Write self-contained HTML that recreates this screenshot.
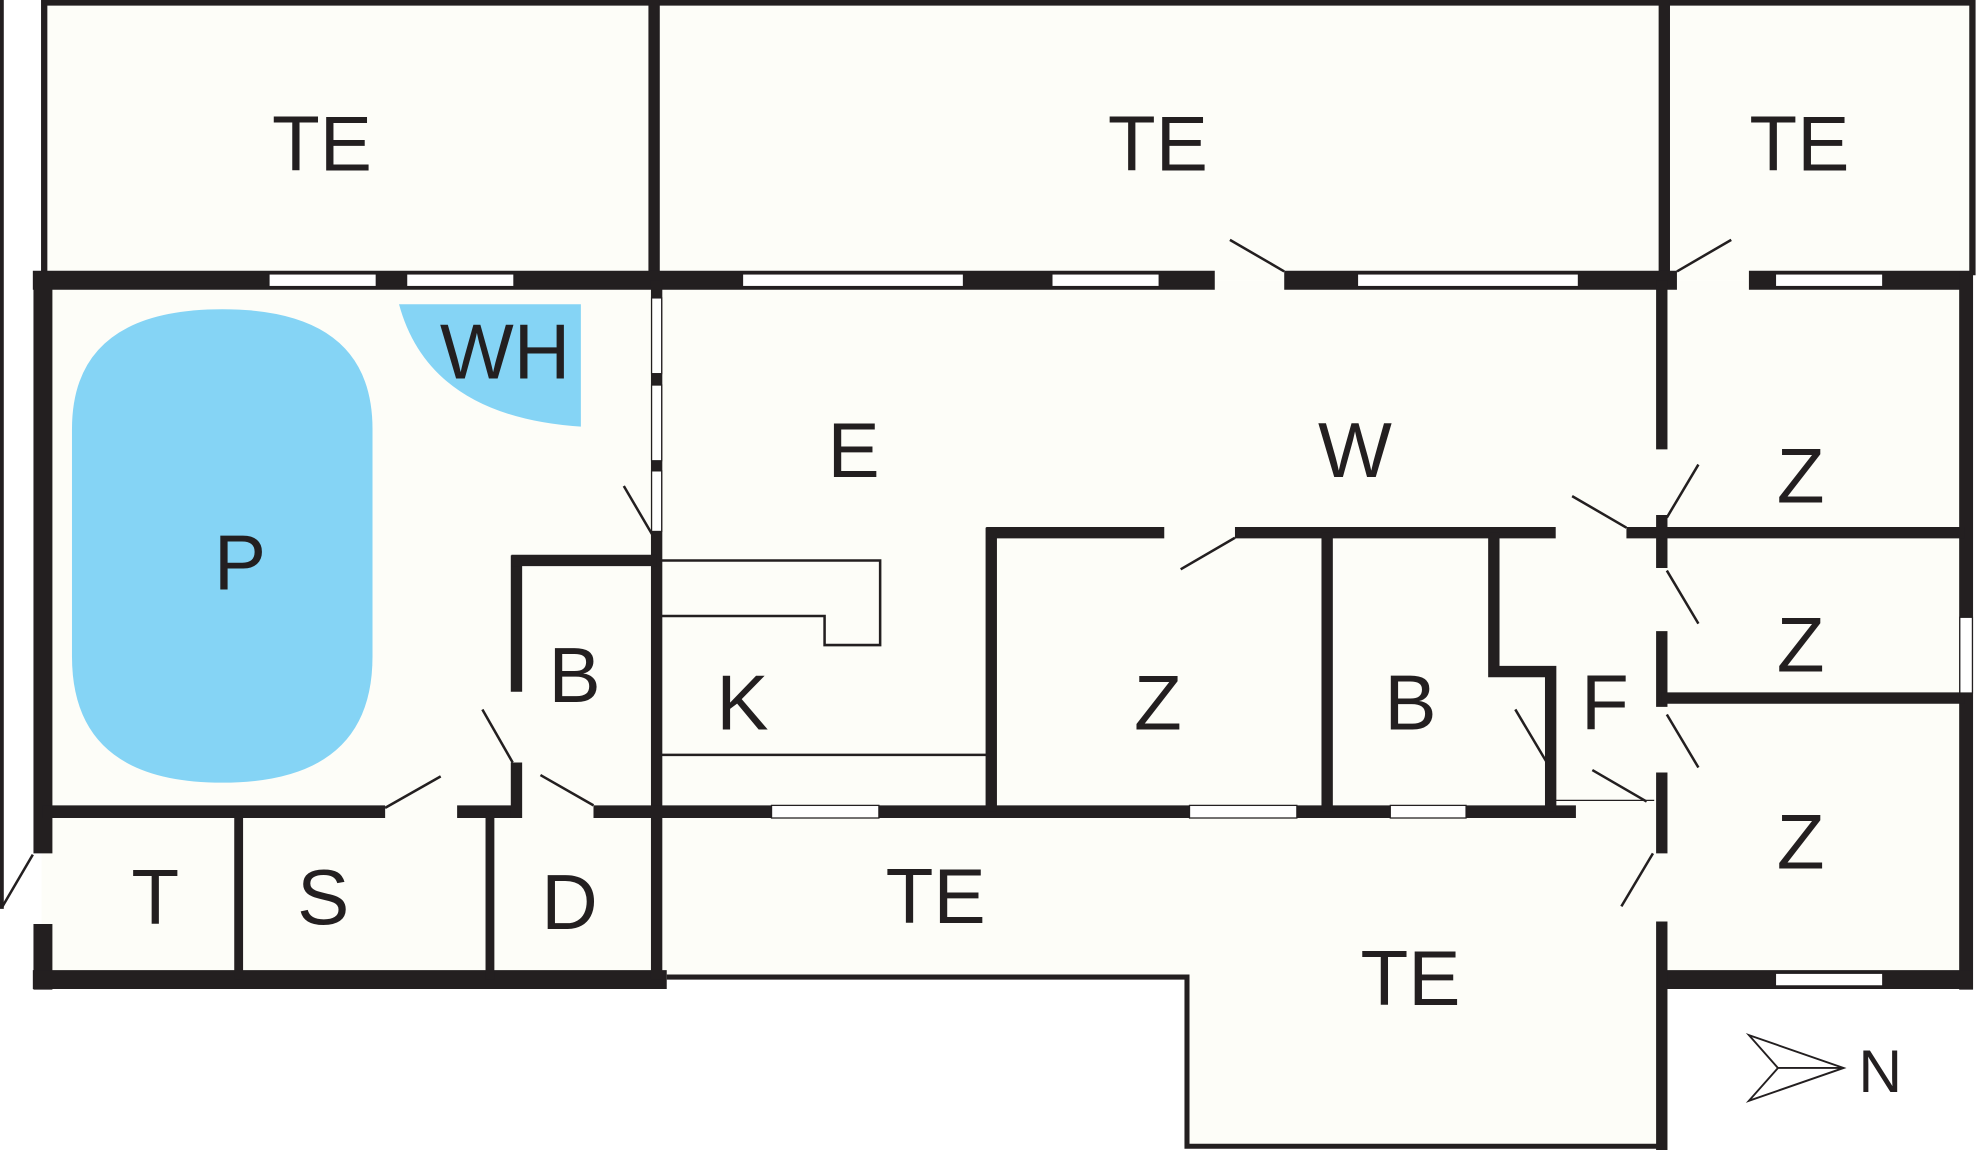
<!DOCTYPE html>
<html><head><meta charset="utf-8"><style>
html,body{margin:0;padding:0;background:#fff}
svg{display:block}
text{font-family:"Liberation Sans",sans-serif;font-size:62px;fill:#231f20;text-anchor:middle}
</style></head><body>
<svg width="1980" height="1150" viewBox="0 0 1568 911" preserveAspectRatio="none" xmlns="http://www.w3.org/2000/svg">
<rect width="1568" height="911" fill="#fff"/>
<g fill="#fdfdf8">
<rect x="33" y="0" width="1527" height="222"/>
<rect x="33" y="222" width="1523" height="554"/>
<rect x="518" y="643" width="798" height="131"/>
<rect x="940" y="770" width="376" height="138"/>
</g>
<g stroke="#231f20" fill="none">
<line x1="1.5" y1="0" x2="1.5" y2="720" stroke-width="3"/>
<polyline points="35,218 35,2 1562,2 1562,218" stroke-width="5"/>
<line x1="518" y1="0" x2="518" y2="222" stroke-width="9"/>
<line x1="1318" y1="0" x2="1318" y2="222" stroke-width="9"/>
<line x1="26" y1="222" x2="962" y2="222" stroke-width="15"/>
<line x1="1017" y1="222" x2="1328" y2="222" stroke-width="15"/>
<line x1="1385" y1="222" x2="1562" y2="222" stroke-width="15"/>
<line x1="34" y1="215" x2="34" y2="676" stroke-width="15"/>
<line x1="34" y1="732" x2="34" y2="784" stroke-width="15"/>
<line x1="26" y1="776" x2="528" y2="776" stroke-width="15"/>
<line x1="1557" y1="215" x2="1557" y2="784" stroke-width="11"/>
<line x1="1316" y1="776" x2="1562" y2="776" stroke-width="15"/>
<line x1="1316" y1="222" x2="1316" y2="356" stroke-width="9"/>
<line x1="1316" y1="408" x2="1316" y2="450" stroke-width="9"/>
<line x1="1316" y1="500" x2="1316" y2="560" stroke-width="9"/>
<line x1="1316" y1="612" x2="1316" y2="676" stroke-width="9"/>
<line x1="1316" y1="730" x2="1316" y2="911" stroke-width="9"/>
<polyline points="528,774 940,774 940,908 1316,908" stroke-width="4"/>
<line x1="520" y1="222" x2="520" y2="776" stroke-width="9"/>
<line x1="34" y1="643" x2="305" y2="643" stroke-width="10"/>
<line x1="362" y1="643" x2="409" y2="643" stroke-width="10"/>
<line x1="470" y1="643" x2="1248" y2="643" stroke-width="10"/>
<line x1="409" y1="440" x2="409" y2="548" stroke-width="9"/>
<line x1="409" y1="604" x2="409" y2="648" stroke-width="9"/>
<line x1="405" y1="444" x2="520" y2="444" stroke-width="9"/>
<line x1="189" y1="643" x2="189" y2="776" stroke-width="7"/>
<line x1="388" y1="643" x2="388" y2="776" stroke-width="7"/>
<line x1="785" y1="418" x2="785" y2="643" stroke-width="9"/>
<line x1="781" y1="422" x2="922" y2="422" stroke-width="9"/>
<line x1="978" y1="422" x2="1232" y2="422" stroke-width="9"/>
<line x1="1288" y1="422" x2="1556" y2="422" stroke-width="9"/>
<line x1="1051" y1="422" x2="1051" y2="643" stroke-width="9"/>
<polyline points="1183,422 1183,532 1228,532 1228,643" stroke-width="9"/>
<line x1="1316" y1="553" x2="1556" y2="553" stroke-width="9"/>
<polyline points="522,444 697,444 697,511 653,511 653,488 522,488" stroke-width="2"/>
<line x1="522" y1="598" x2="785" y2="598" stroke-width="2"/>
<line x1="494" y1="385" x2="518" y2="426" stroke-width="2"/>
<line x1="382" y1="562" x2="406" y2="604" stroke-width="2"/>
<line x1="305" y1="640" x2="349" y2="615" stroke-width="2"/>
<line x1="428" y1="614" x2="470" y2="638" stroke-width="2"/>
<line x1="2" y1="718" x2="26" y2="677" stroke-width="2"/>
<line x1="974" y1="190" x2="1017" y2="215" stroke-width="2"/>
<line x1="1328" y1="215" x2="1371" y2="190" stroke-width="2"/>
<line x1="935" y1="451" x2="978" y2="426" stroke-width="2"/>
<line x1="1245" y1="393" x2="1288" y2="418" stroke-width="2"/>
<line x1="1320" y1="410" x2="1345" y2="368" stroke-width="2"/>
<line x1="1320" y1="452" x2="1345" y2="494" stroke-width="2"/>
<line x1="1320" y1="566" x2="1345" y2="608" stroke-width="2"/>
<line x1="1200" y1="562" x2="1225" y2="604" stroke-width="2"/>
<line x1="1261" y1="610" x2="1304" y2="635" stroke-width="2"/>
<line x1="1284" y1="718" x2="1309" y2="676" stroke-width="2"/>
<line x1="1232" y1="634" x2="1310" y2="634" stroke-width="1"/>
</g>
<g fill="#fff" stroke="#231f20" stroke-width="1">
<rect x="213" y="217" width="85" height="10"/>
<rect x="322" y="217" width="85" height="10"/>
<rect x="588" y="217" width="175" height="10"/>
<rect x="833" y="217" width="85" height="10"/>
<rect x="1075" y="217" width="175" height="10"/>
<rect x="1406" y="217" width="85" height="10"/>
<rect x="516" y="236" width="8" height="60"/>
<rect x="516" y="305" width="8" height="60"/>
<rect x="516" y="373" width="8" height="48"/>
<rect x="611" y="638" width="85" height="10"/>
<rect x="942" y="638" width="85" height="10"/>
<rect x="1101" y="638" width="60" height="10"/>
<rect x="1406" y="771" width="85" height="10"/>
<rect x="1552" y="489" width="10" height="60"/>
</g>
<path d="M57,340 Q57,245 176,245 Q295,245 295,340 L295,520 Q295,620 176,620 Q57,620 57,520 Z" fill="#85d4f5"/>
<path d="M316,241 L460,241 L460,338 Q340,330 316,241 Z" fill="#85d4f5"/>
<path d="M1385,820 L1460,846 L1385,872 L1408,846 Z M1408,846 L1460,846" fill="none" stroke="#231f20" stroke-width="1.5"/>
<text x="1489" y="865" style="font-size:48px">N</text>
<g>
<text x="255" y="135">TE</text>
<text x="917" y="135">TE</text>
<text x="1425" y="135">TE</text>
<text x="400" y="300">WH</text>
<text x="676" y="378">E</text>
<text x="1073" y="378">W</text>
<text x="1426" y="398">Z</text>
<text x="190" y="467">P</text>
<text x="455" y="556">B</text>
<text x="588" y="578">K</text>
<text x="917" y="578">Z</text>
<text x="1117" y="578">B</text>
<text x="1271" y="578">F</text>
<text x="1426" y="532">Z</text>
<text x="1426" y="688">Z</text>
<text x="123" y="732">T</text>
<text x="256" y="732">S</text>
<text x="451" y="736">D</text>
<text x="741" y="731">TE</text>
<text x="1117" y="796">TE</text>
</g>
</svg>
</body></html>
